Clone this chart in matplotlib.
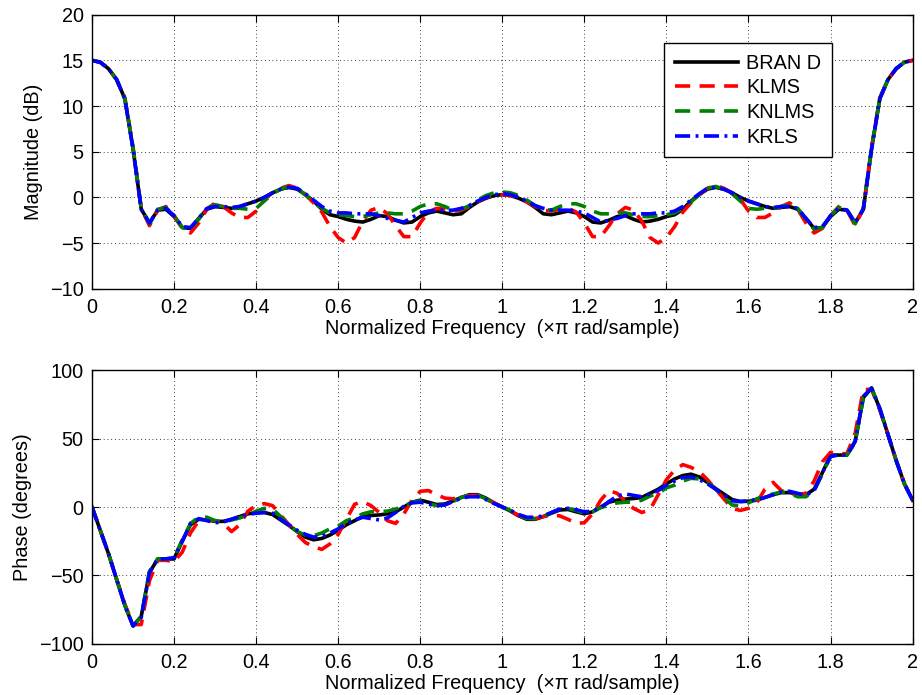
import numpy as np
import matplotlib
matplotlib.use('Agg')
import matplotlib.pyplot as plt

plt.rcParams['font.family'] = ['Liberation Sans', 'DejaVu Sans']

###DATA###
# normalized frequency, 0..2 in steps of 0.02
freq = np.linspace(0, 2, 101)

# magnitude response (dB)
mag_brand = [15.0, 14.8, 14.1, 12.9, 10.8, 5.3, -1.3, -2.8, -1.4, -1.3,
             -2.1, -3.3, -3.4, -2.3, -1.3, -1.0, -1.1, -1.2, -1.0, -0.7,
             -0.4, 0.0, 0.5, 0.9, 1.1, 0.9, 0.3, -0.4, -1.3, -1.9,
             -2.1, -2.4, -2.6, -2.7, -2.4, -2.0, -2.1, -2.5, -2.8, -2.7,
             -2.1, -1.7, -1.5, -1.7, -1.9, -1.8, -1.1, -0.5, -0.1, 0.2,
             0.3,
             0.2, -0.1, -0.5, -1.1, -1.8, -1.9, -1.7, -1.5, -1.7, -2.1,
             -2.7, -2.8, -2.5, -2.1, -2.0, -2.4, -2.7, -2.6, -2.4, -2.1,
             -1.9, -1.3, -0.4, 0.3, 0.9, 1.1, 0.9, 0.5, 0.0, -0.4,
             -0.7, -1.0, -1.2, -1.1, -1.0, -1.3, -2.3, -3.4, -3.3, -2.1,
             -1.3, -1.4, -2.8, -1.3, 5.3, 10.8, 12.9, 14.1, 14.8, 15.0]

mag_klms = [15.0, 14.8, 14.1, 12.9, 10.9, 5.5, -1.2, -3.1, -1.4, -1.0,
            -2.0, -3.4, -3.9, -2.8, -1.3, -0.6, -1.0, -1.7, -2.2, -2.2,
            -1.5, -0.2, 0.5, 1.0, 1.3, 1.0, 0.3, -0.6, -1.6, -3.2,
            -4.4, -5.0, -4.4, -2.6, -1.4, -1.1, -1.8, -3.1, -4.3, -4.3,
            -2.8, -1.6, -1.2, -1.3, -1.5, -1.4, -1.0, -0.5, 0.0, 0.2,
            0.3,
            0.2, 0.0, -0.5, -1.0, -1.4, -1.5, -1.3, -1.2, -1.6, -2.8,
            -4.3, -4.3, -3.1, -1.8, -1.1, -1.4, -2.6, -4.4, -5.0, -4.4,
            -3.2, -1.6, -0.6, 0.3, 1.0, 1.3, 1.0, 0.5, -0.2, -1.5,
            -2.2, -2.2, -1.7, -1.0, -0.6, -1.3, -2.8, -3.9, -3.4, -2.0,
            -1.0, -1.4, -3.1, -1.2, 5.5, 10.9, 12.9, 14.1, 14.8, 15.0]

mag_knlms = [15.0, 14.8, 14.1, 12.9, 10.8, 5.4, -1.2, -2.9, -1.3, -1.1,
             -2.0, -3.3, -3.5, -2.4, -1.2, -0.8, -1.0, -1.2, -1.2, -1.3,
             -1.2, -0.4, 0.4, 0.9, 1.2, 1.0, 0.3, -0.5, -1.2, -1.7,
             -1.9, -2.0, -2.1, -2.1, -1.9, -1.7, -1.7, -1.8, -1.8, -1.5,
             -1.0, -0.7, -0.7, -1.0, -1.4, -1.3, -0.9, -0.3, 0.2, 0.5,
             0.6,
             0.5, 0.2, -0.3, -0.9, -1.3, -1.4, -1.0, -0.7, -0.7, -1.0,
             -1.5, -1.8, -1.8, -1.7, -1.7, -1.9, -2.1, -2.1, -2.0, -1.9,
             -1.7, -1.2, -0.5, 0.3, 1.0, 1.2, 0.9, 0.4, -0.4, -1.2,
             -1.3, -1.2, -1.2, -1.0, -0.8, -1.2, -2.4, -3.5, -3.3, -2.0,
             -1.1, -1.3, -2.9, -1.2, 5.4, 10.8, 12.9, 14.1, 14.8, 15.0]

mag_krls = [15.0, 14.8, 14.1, 12.9, 10.8, 5.3, -1.3, -2.8, -1.4, -1.2,
            -2.0, -3.2, -3.3, -2.3, -1.2, -1.0, -1.0, -1.1, -1.0, -0.7,
            -0.4, 0.0, 0.5, 0.9, 1.1, 1.0, 0.4, -0.3, -1.0, -1.5,
            -1.7, -1.7, -1.8, -1.8, -1.8, -2.0, -2.3, -2.5, -2.7, -2.2,
            -1.7, -1.5, -1.4, -1.4, -1.4, -1.2, -0.9, -0.4, 0.0, 0.3,
            0.4,
            0.3, 0.0, -0.4, -0.9, -1.2, -1.4, -1.4, -1.4, -1.5, -1.7,
            -2.2, -2.7, -2.5, -2.3, -2.0, -1.8, -1.8, -1.8, -1.7, -1.7,
            -1.5, -1.0, -0.3, 0.4, 1.0, 1.1, 0.9, 0.5, 0.0, -0.4,
            -0.7, -1.0, -1.1, -1.0, -1.0, -1.2, -2.3, -3.3, -3.2, -2.0,
            -1.2, -1.4, -2.8, -1.3, 5.3, 10.8, 12.9, 14.1, 14.8, 15.0]

# phase response (degrees)
ph_brand = [0, -17, -34, -53, -72, -87, -80, -48, -38, -38,
            -38, -25, -13, -9, -9.5, -10.5, -10.5, -9, -7, -5,
            -4.2, -4, -5.5, -9.5, -13.5, -18, -22, -24, -23, -20.5,
            -17, -13, -10, -7, -6.2, -5.8, -5, -3.5, 0, 3.5,
            5, 3.5, 1.8, 2.2, 4.5, 7, 9, 9, 6.5, 3,
            0,
            -3, -6.5, -9, -9, -7, -4.5, -2.2, -1.8, -3.5, -5,
            -3.5, 0, 3.5, 5, 5.8, 6.2, 7, 10, 13, 17,
            20.5, 23, 24, 22, 18, 13.5, 9.5, 5.5, 4, 4.2,
            5, 7, 9, 10.5, 10.5, 9.5, 9, 13, 25, 38,
            38, 38, 48, 80, 87, 72, 53, 34, 17, 5]

ph_klms = [0, -17, -34, -53, -71, -86, -86, -54, -39, -39,
           -40, -33, -19, -10, -9, -10, -12, -18, -13, -3,
           1, 2.5, 1, -6, -13, -20, -26, -29, -31, -27,
           -20, -9, 2, 4, 1, -4, -10, -12, -5, 5,
           11.5, 12, 9, 6.5, 6, 7, 8.5, 8.5, 6, 3,
           0,
           -3, -6, -8.5, -8.5, -7, -6, -6.5, -9, -12, -11.5,
           -5, 5, 12, 10, 4, -1, -4, -2, 9, 20,
           27, 31, 29, 26, 20, 13, 6, -1, -2.5, -1,
           3, 13, 18, 12, 10, 9, 10, 19, 33, 40,
           39, 39, 54, 86, 86, 71, 53, 34, 17, 5]

ph_knlms = [0, -17, -34, -53, -72, -87, -80, -47, -38, -38,
            -37, -24, -12, -7.5, -7.5, -10, -11, -9.5, -8, -6,
            -3, -1, -1.5, -7, -13, -18, -20.5, -21, -19, -16,
            -14, -10, -8, -5, -3.5, -3.5, -3, -1.5, 0.5, 3.5,
            4.5, 2.5, 1, 1.5, 4, 7, 8.5, 8.5, 6, 2.5,
            0,
            -2.5, -6, -8.5, -8.5, -7, -4, -1.5, -1, -2.5, -4.5,
            -3.5, -0.5, 1.5, 3, 3.5, 3.5, 5, 8, 10, 14,
            16, 19, 21, 20.5, 18, 13, 7, 1.5, 1, 3,
            6, 8, 9.5, 11, 10, 7.5, 7.5, 12, 24, 37,
            38, 38, 47, 80, 87, 72, 53, 34, 17, 5]

ph_krls = [0, -17, -34, -53, -72, -87, -81, -48, -38, -38,
           -37, -25, -12, -8.5, -10, -11.5, -11, -9, -7, -5.5,
           -4.5, -4, -4.5, -9, -13, -17, -20, -22, -21.5, -19,
           -16, -12, -9.5, -7.5, -8.5, -9.5, -8, -4, 0.5, 3,
           3.5, 2, 1, 1.5, 4, 6.5, 7.5, 7.5, 5.5, 2.5,
           0,
           -2.5, -5.5, -7.5, -7.5, -6.5, -4, -1.5, -1, -2, -3.5,
           -3, -0.5, 4, 8, 9.5, 8.5, 7.5, 9.5, 12, 16,
           19, 21.5, 22, 20, 17, 13, 9, 4.5, 4, 4.5,
           5.5, 7, 9, 11, 11.5, 10, 8.5, 12, 25, 37,
           38, 38, 48, 81, 87, 72, 53, 34, 17, 5]

labels = ['BRAN D', 'KLMS', 'KNLMS', 'KRLS']
xticks = [0, 0.2, 0.4, 0.6, 0.8, 1, 1.2, 1.4, 1.6, 1.8, 2]
xticklabels = ['0', '0.2', '0.4', '0.6', '0.8', '1', '1.2', '1.4', '1.6', '1.8', '2']

###PLOTTING###
fs = 14.3
lw = 2.6
styles = [dict(color='k', linestyle='-'),
          dict(color='r', dashes=(4.2, 2.6)),
          dict(color=(0, 0.5, 0), dashes=(4.2, 2.6)),
          dict(color='b', dashes=(4.2, 1.5, 0.8, 1.5))]

fig = plt.figure(figsize=(9.22, 6.95), dpi=100)
ax1 = fig.add_axes([0.0998, 0.5846, 0.890, 0.3942])
ax2 = fig.add_axes([0.0998, 0.0738, 0.890, 0.3934])

for ax, series in ((ax1, [mag_brand, mag_klms, mag_knlms, mag_krls]),
                   (ax2, [ph_brand, ph_klms, ph_knlms, ph_krls])):
    for y, st, lab in zip(series, styles, labels):
        ax.plot(freq, y, linewidth=lw, label=lab, **st)
    ax.set_xlim(0, 2)
    ax.set_xticks(xticks)
    ax.set_xticklabels(xticklabels)
    ax.grid(True, color='k', linestyle=(0, (1, 3.5)), linewidth=0.6)
    ax.tick_params(direction='in', top=True, right=True, length=5,
                   labelsize=fs)
    ax.tick_params(axis='x', pad=7)
    ax.tick_params(axis='y', pad=6)
    for sp in ax.spines.values():
        sp.set_linewidth(1.0)
    ax.set_xlabel('Normalized Frequency  (\u00d7\u03c0 rad/sample)',
                  fontsize=fs, labelpad=1)

ax1.set_ylim(-10, 20)
ax1.set_yticks([-10, -5, 0, 5, 10, 15, 20])
ax1.set_ylabel('Magnitude (dB)', fontsize=fs, labelpad=5)

ax2.set_ylim(-100, 100)
ax2.set_yticks([-100, -50, 0, 50, 100])
ax2.set_ylabel('Phase (degrees)', fontsize=fs, labelpad=5)

leg = ax1.legend(loc='upper right', bbox_to_anchor=(0.902, 0.897),
                 fontsize=fs, handlelength=3.2, fancybox=False,
                 edgecolor='k', framealpha=1, borderpad=0.55,
                 labelspacing=0.28, handletextpad=0.4, borderaxespad=0)
leg.get_frame().set_linewidth(1.0)

fig.savefig('out.png', dpi=100)
